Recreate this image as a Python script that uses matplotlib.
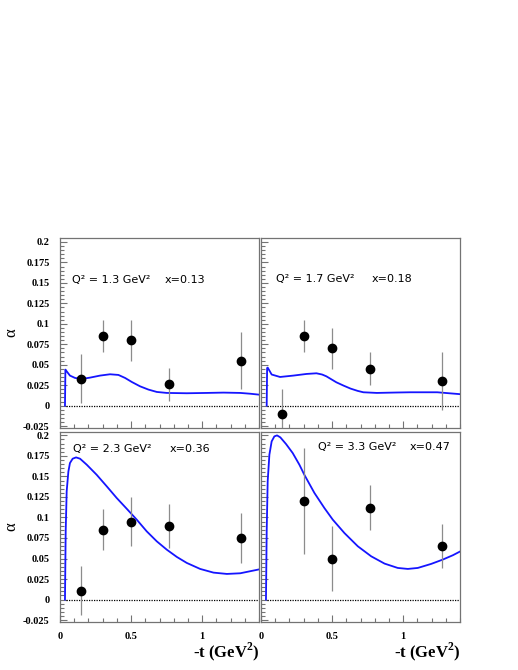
import matplotlib
matplotlib.use("Agg")
import matplotlib.pyplot as plt
from matplotlib.ticker import MultipleLocator, FuncFormatter

plt.rcParams['axes.unicode_minus'] = False
plt.rcParams['mathtext.fontset'] = 'custom'
plt.rcParams['mathtext.rm'] = 'Liberation Serif'
plt.rcParams['mathtext.bf'] = 'Liberation Serif:bold'

# kinematic bins
q2_vals = ["1.3", "1.7", "2.3", "3.3"]
xb_vals = ["0.13", "0.18", "0.36", "0.47"]

# measured points: -t, alpha, error
t_a = [0.15, 0.30, 0.50, 0.77, 1.27]
alpha_a = [0.033, 0.085, 0.080, 0.026, 0.055]
err_a = [0.030, 0.020, 0.025, 0.020, 0.035]

t_b = [0.15, 0.30, 0.50, 0.77, 1.27]
alpha_b = [-0.010, 0.085, 0.070, 0.045, 0.030]
err_b = [0.030, 0.020, 0.025, 0.020, 0.035]

t_c = [0.15, 0.30, 0.50, 0.77, 1.27]
alpha_c = [0.011, 0.085, 0.095, 0.090, 0.075]
err_c = [0.030, 0.025, 0.030, 0.027, 0.030]

t_d = [0.30, 0.50, 0.77, 1.27]
alpha_d = [0.120, 0.050, 0.112, 0.065]
err_d = [0.065, 0.040, 0.027, 0.027]

# model curves
mt_a = [0.035, 0.038, 0.047, 0.07, 0.106, 0.153, 0.211, 0.282, 0.352, 0.411, 0.458,
        0.505, 0.563, 0.622, 0.681, 0.751, 0.892, 1.033, 1.15, 1.268, 1.34, 1.4]
ma_a = [0.0, 0.044, 0.0419, 0.0367, 0.0338, 0.0326, 0.0342, 0.0367, 0.0383, 0.0375, 0.0338,
        0.0289, 0.0236, 0.0196, 0.0167, 0.0155, 0.0151, 0.0155, 0.0159, 0.0155, 0.0145, 0.0134]

mt_b = [0.04, 0.043, 0.047, 0.075, 0.134, 0.228, 0.32, 0.39, 0.43, 0.46, 0.53, 0.58,
        0.63, 0.68, 0.72, 0.815, 0.95, 1.05, 1.24, 1.33, 1.4]
ma_b = [0.0, 0.046, 0.0465, 0.038, 0.035, 0.0367, 0.0387, 0.0395, 0.038, 0.0358, 0.0285,
        0.0245, 0.0208, 0.018, 0.0163, 0.0155, 0.016, 0.0163, 0.0163, 0.015, 0.014]

mt_c = [0.035, 0.04, 0.047, 0.059, 0.07, 0.089, 0.113, 0.141, 0.188, 0.258, 0.329, 0.399,
        0.469, 0.54, 0.61, 0.681, 0.751, 0.822, 0.892, 0.986, 1.08, 1.174, 1.268, 1.338, 1.4]
ma_c = [0.0, 0.083, 0.132, 0.156, 0.1663, 0.1716, 0.1732, 0.1716, 0.1643, 0.152, 0.1379, 0.1237,
        0.1107, 0.0973, 0.0831, 0.0709, 0.0608, 0.0519, 0.0446, 0.0373, 0.0328, 0.0312, 0.032,
        0.0345, 0.0367]

mt_d = [0.035, 0.040, 0.047, 0.059, 0.075, 0.094, 0.113, 0.136, 0.176, 0.223, 0.27, 0.305,
        0.376, 0.446, 0.505, 0.587, 0.681, 0.775, 0.869, 0.962, 1.033, 1.103, 1.197, 1.279,
        1.35, 1.4]
ma_d = [0.0, 0.083, 0.144, 0.1765, 0.1927, 0.1988, 0.200, 0.1976, 0.1895, 0.1785, 0.1643, 0.152,
        0.1298, 0.1115, 0.0973, 0.081, 0.0649, 0.0527, 0.0438, 0.0385, 0.0373, 0.0385, 0.0434,
        0.0487, 0.054, 0.0585]

points = [(t_a, alpha_a, err_a), (t_b, alpha_b, err_b), (t_c, alpha_c, err_c), (t_d, alpha_d, err_d)]
curves = [(mt_a, ma_a), (mt_b, ma_b), (mt_c, ma_c), (mt_d, ma_d)]

# layout (pixels: left, top, right, bottom) and label positions
W, H = 518, 670
boxes = [(60, 238.3, 259, 427.7), (261, 238.3, 460, 427.7),
         (60, 431.7, 259, 621.7), (261, 431.7, 460, 621.7)]
txt_pos = [(0.087, 0.739, 0.154), (0.106, 0.78, 0.155),
           (0.094, 0.775, 0.184), (0.404, 1.049, 0.186)]

gray = '0.45'
fig = plt.figure(figsize=(W / 100, H / 100), dpi=100)

for i in range(4):
    l, tp, r, b = boxes[i]
    ax = fig.add_axes([l / W, 1 - b / H, (r - l) / W, (b - tp) / H])
    ax.set_xlim(0, 1.4)
    ax.set_ylim(-0.027, 0.2045)

    ax.hlines(0, 0.045, 1.4, colors='black', linestyles=(0, (1, 1)), lw=0.9)
    ax.plot(curves[i][0], curves[i][1], color='#1515ff', lw=1.3, zorder=2)
    t, a, e = points[i]
    ax.errorbar(t, a, yerr=e, fmt='o', color='black', ms=6, ecolor='0.55',
                elinewidth=0.9, capsize=0, zorder=3)

    xa, xb_, yt = txt_pos[i]
    ax.text(xa, yt, "Q² = %s GeV²" % q2_vals[i], fontsize=8, va='center')
    ax.text(xb_, yt, "x=%s" % xb_vals[i], fontsize=8, va='center')

    for s in ax.spines.values():
        s.set_color(gray)
        s.set_linewidth(0.9)
    ax.xaxis.set_major_locator(MultipleLocator(0.5))
    ax.xaxis.set_minor_locator(MultipleLocator(0.1))
    ax.yaxis.set_major_locator(MultipleLocator(0.025))
    ax.yaxis.set_minor_locator(MultipleLocator(0.005))
    fmt = FuncFormatter(lambda v, p: "%g" % (round(v, 4) + 0.0))
    ax.xaxis.set_major_formatter(fmt)
    ax.yaxis.set_major_formatter(fmt)
    ax.tick_params(which='both', direction='in', top=False, right=False,
                   color=gray, width=0.8, pad=7.5)
    ax.tick_params(which='major', length=5)
    ax.tick_params(which='minor', length=2.7)
    for lab in ax.get_xticklabels() + ax.get_yticklabels():
        lab.set_family('Liberation Serif')
        lab.set_weight('bold')
        lab.set_fontsize(7.5)

    if i % 2 == 1:
        ax.tick_params(labelleft=False)
    else:
        ax.set_ylabel("α", family='Liberation Serif', fontsize=12)
        ax.yaxis.set_label_coords(-0.205, 0.5)
    if i < 2:
        ax.tick_params(labelbottom=False)
    else:
        ax.set_xlabel(r"-t (GeV$^{\mathbf{2}}$)", family='Liberation Serif',
                      weight='bold', fontsize=12, ha='right')
        ax.xaxis.set_label_coords(1.0, -0.1)

fig.savefig("out.png", dpi=100)
